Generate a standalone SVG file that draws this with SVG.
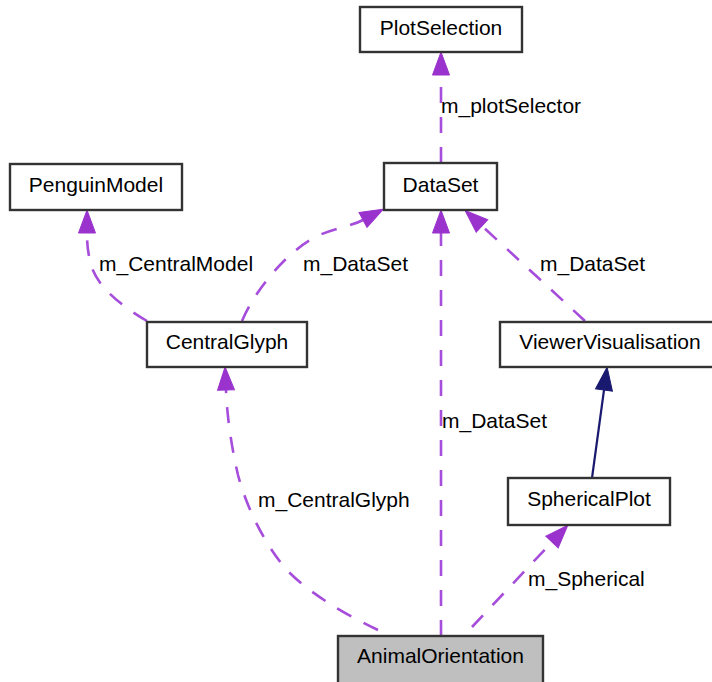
<svg xmlns="http://www.w3.org/2000/svg" width="712" height="682" viewBox="0 0 712 682">
<style>
.node rect{fill:#ffffff;stroke:#333333;stroke-width:2.4}
.node.main rect{fill:#bfbfbf}
text{font-family:"Liberation Sans",Arial,sans-serif;font-size:21px;fill:#000000}
.node text{text-anchor:middle}
.e{fill:none;stroke:#a64ddb;stroke-width:2.6;stroke-dasharray:16,14}
.inh{fill:none;stroke:#191970;stroke-width:2.2}
</style>
<defs>
<marker id="ap" markerUnits="userSpaceOnUse" markerWidth="26" markerHeight="20" refX="0" refY="8.5" orient="auto" viewBox="0 0 26 17" overflow="visible">
<path d="M0,0 L23,8.5 L0,17 Z" fill="#9a32cd" stroke="#9a32cd" stroke-width="1"/>
</marker>
<marker id="an" markerUnits="userSpaceOnUse" markerWidth="26" markerHeight="20" refX="0" refY="8.5" orient="auto" viewBox="0 0 26 17" overflow="visible">
<path d="M0,0 L23,8.5 L0,17 Z" fill="#191970" stroke="#191970" stroke-width="1"/>
</marker>
</defs>
<rect width="712" height="682" fill="#ffffff"/>
<g id="edges">
<path class="e" d="M441,163 L441,75" marker-end="url(#ap)"/>
<text x="441" y="113">m_plotSelector</text>
<path class="e" d="M147,321 C125,308 100,290 92,268 C88,255 87,245 87,233" marker-end="url(#ap)"/>
<text x="99" y="271">m_CentralModel</text>
<path class="e" d="M242,321 C255,290 285,255 310,240 C330,228 349,227.5 363,220" marker-end="url(#ap)"/>
<text x="303" y="271">m_DataSet</text>
<path class="e" d="M441,636 L441,233" marker-end="url(#ap)"/>
<text x="442" y="428">m_DataSet</text>
<path class="e" d="M585,321 L482,226" marker-end="url(#ap)"/>
<text x="540" y="271">m_DataSet</text>
<path class="inh" d="M592,478 L604,390" marker-end="url(#an)"/>
<path class="e" d="M378,630 C340,612 305,590 285,568 C262,540 246,505 238,475 C231,445 227,415 226,390" marker-end="url(#ap)"/>
<text x="258" y="507">m_CentralGlyph</text>
<path class="e" d="M472,627 L552,542" marker-end="url(#ap)"/>
<text x="528" y="586">m_Spherical</text>
</g>
<g id="PlotSelection" class="node">
<rect x="360" y="7" width="162" height="45"/>
<text x="441" y="35">PlotSelection</text>
</g>
<g id="PenguinModel" class="node">
<rect x="10" y="164" width="172" height="46"/>
<text x="96" y="192">PenguinModel</text>
</g>
<g id="DataSet" class="node">
<rect x="384" y="163" width="113" height="47"/>
<text x="440.5" y="192">DataSet</text>
</g>
<g id="CentralGlyph" class="node">
<rect x="147" y="322" width="160" height="45"/>
<text x="227" y="349">CentralGlyph</text>
</g>
<g id="ViewerVisualisation" class="node">
<rect x="500" y="322" width="220" height="45"/>
<text x="610" y="349">ViewerVisualisation</text>
</g>
<g id="SphericalPlot" class="node">
<rect x="508" y="478" width="162" height="47"/>
<text x="589" y="506">SphericalPlot</text>
</g>
<g id="AnimalOrientation" class="node main">
<rect x="338" y="636" width="205" height="50"/>
<text x="440.5" y="663">AnimalOrientation</text>
</g>
</svg>
